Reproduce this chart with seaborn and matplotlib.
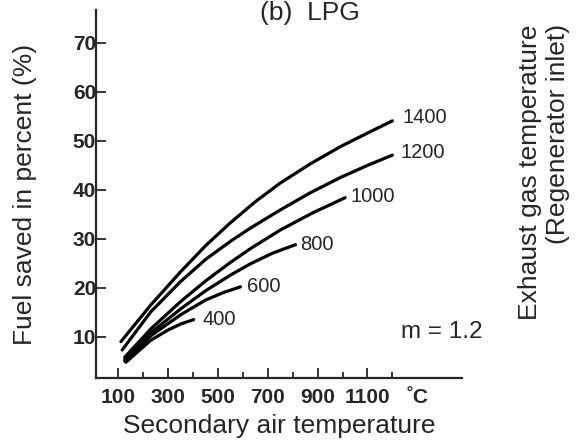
import numpy as np
import pandas as pd
import matplotlib
matplotlib.use("Agg")
import matplotlib.pyplot as plt
import seaborn as sns

# secondary air temperature (C) vs fuel saved (%) for each exhaust gas temperature
x_1400 = [110, 230, 350, 450, 550, 650, 750, 870, 990, 1100, 1200]
y_1400 = [9.0, 16.5, 23.3, 28.6, 33.3, 37.6, 41.4, 45.3, 48.8, 51.6, 54.1]
x_1200 = [115, 230, 350, 450, 550, 630, 750, 870, 990, 1100, 1200]
y_1200 = [7.3, 15.1, 21.3, 25.8, 29.5, 32.2, 35.9, 39.4, 42.5, 45.0, 47.1]
x_1000 = [125, 230, 350, 450, 550, 630, 750, 880, 1010]
y_1000 = [5.8, 11.6, 17.2, 21.4, 25.2, 28.0, 31.8, 35.3, 38.4]
x_800 = [125, 230, 350, 450, 550, 630, 720, 811]
y_800 = [5.3, 10.8, 15.7, 19.4, 22.6, 24.9, 27.1, 28.8]
x_600 = [125, 230, 350, 450, 520, 590]
y_600 = [5.0, 10.2, 14.5, 17.5, 19.0, 20.2]
x_400 = [130, 230, 300, 350, 402]
y_400 = [4.8, 9.3, 11.4, 12.6, 13.5]

curve_names = ["1400", "1200", "1000", "800", "600", "400"]
curve_x = [x_1400, x_1200, x_1000, x_800, x_600, x_400]
curve_y = [y_1400, y_1200, y_1000, y_800, y_600, y_400]
label_pos = [(1241, 54.7), (1233, 47.6), (1032, 38.6), (831, 28.8), (618, 20.2), (438, 13.5)]

xticks = [100, 300, 500, 700, 900, 1100]
yticks = [10, 20, 30, 40, 50, 60, 70]

sns.set_style("ticks")
plt.rcParams['font.family'] = ['Liberation Sans', 'DejaVu Sans']

fig = plt.figure(figsize=(5.82, 4.43), dpi=100)
ax = fig.add_axes([0.165, 0.147, 0.629, 0.83])

for name, xs, ys in zip(curve_names, curve_x, curve_y):
    sns.lineplot(x=xs, y=ys, color="black", linewidth=2.3, ax=ax, sort=False)

for name, (lx, ly) in zip(curve_names, label_pos):
    ax.text(lx, ly, name, fontsize=14.5, va="center", ha="left")

ax.text(1233, 11, "m = 1.2", fontsize=17.5, va="center", ha="left")

ax.set_xlim(10, 1480)
ax.set_ylim(1.6, 76.7)

ax.set_xticks(xticks + [1300])
ax.set_xticklabels([str(t) for t in xticks] + ["\u02daC"], fontsize=15, fontweight="bold")
ax.set_xticks([200, 400, 600, 800, 1000, 1200], minor=True)
ax.set_yticks(yticks)
ax.set_yticklabels([str(t) for t in yticks], fontsize=15, fontweight="bold")
ax.tick_params(axis="both", which="major", direction="in", length=7, width=1.3)
ax.tick_params(axis="x", which="major", pad=7)
ax.tick_params(axis="y", which="major", pad=0)
ax.tick_params(axis="x", which="minor", direction="in", length=4, width=1.3)
ax.xaxis.get_major_ticks()[-1].tick1line.set_visible(False)

for side in ["top", "right"]:
    ax.spines[side].set_visible(False)
for side in ["left", "bottom"]:
    ax.spines[side].set_linewidth(1.6)

ax.set_xlabel("Secondary air temperature", fontsize=19, labelpad=5)
ax.set_ylabel("Fuel saved in percent (%)", fontsize=19, labelpad=26)

fig.text(0.447, 0.998, "(b)  LPG", fontsize=19, va="top", ha="left")
fig.text(0.935, 0.945, "Exhaust gas temperature\n(Regenerator inlet)", fontsize=19,
         rotation=90, va="top", ha="center", multialignment="right")

fig.savefig("out.png", dpi=100)
